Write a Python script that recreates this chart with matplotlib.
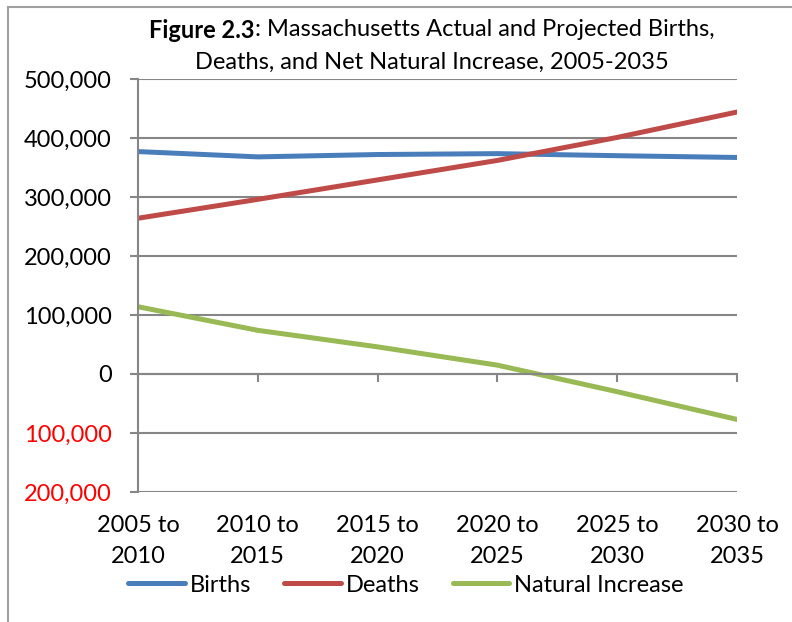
import matplotlib
matplotlib.use("Agg")
import matplotlib.pyplot as plt
from matplotlib.lines import Line2D
from matplotlib.ticker import FuncFormatter

plt.rcParams['font.family'] = ['Lato', 'DejaVu Sans']

# data
periods = ["2005 to\n2010", "2010 to\n2015", "2015 to\n2020",
           "2020 to\n2025", "2025 to\n2030", "2030 to\n2035"]
births = [377000, 368000, 372000, 373500, 370000, 367000]
deaths = [264000, 296000, 329000, 362000, 401000, 444000]
natural = [114000, 74000, 46000, 15000, -30000, -77000]
yticks = [-200000, -100000, 0, 100000, 200000, 300000, 400000, 500000]

grid_col = "#868686"
fs = 17

fig = plt.figure(figsize=(7.92, 6.22), dpi=100)
ax = fig.add_axes([138 / 792, 1 - 492 / 622, (737 - 138) / 792, (492 - 79) / 622])

x = list(range(len(periods)))
ax.plot(x, births, color="#4A7EBB", lw=3.6, label="Births", solid_capstyle="round")
ax.plot(x, deaths, color="#BE4B48", lw=3.6, label="Deaths", solid_capstyle="round")
ax.plot(x, natural, color="#98B954", lw=3.6, label="Natural Increase", solid_capstyle="round")

ax.set_xlim(0, len(periods) - 1)
ax.set_ylim(yticks[0], yticks[-1])
ax.set_yticks(yticks)
ax.yaxis.set_major_formatter(FuncFormatter(lambda v, p: f"{abs(int(v)):,}"))
ax.grid(axis="y", color=grid_col, lw=1.5)
ax.set_axisbelow(True)

for s in ["top", "right"]:
    ax.spines[s].set_visible(False)
ax.spines["left"].set_color(grid_col)
ax.spines["left"].set_linewidth(1.5)
ax.spines["bottom"].set_position(("data", 0))
ax.spines["bottom"].set_color(grid_col)
ax.spines["bottom"].set_linewidth(1.5)

ax.tick_params(axis="y", direction="out", length=6, width=1.5, color=grid_col,
               labelsize=fs, pad=13)
ax.set_xticks(x)
ax.tick_params(axis="x", direction="out", length=6, width=1.5, color=grid_col,
               labelbottom=False)
for lbl, v in zip(ax.get_yticklabels(), yticks):
    if v < 0:
        lbl.set_color("red")

# category labels sit below the plot area, not at the zero line
for xi, lab in zip(x, periods):
    ax.text(xi, -0.055, lab, transform=ax.get_xaxis_transform(), ha="center",
            va="top", fontsize=fs, linespacing=1.6)

# title: bold prefix + regular text, both lines centred on x=432px
cx = 432 / 792
t1 = fig.text(0, 1 - 30 / 622, "Figure 2.3", fontsize=fs, fontweight="bold",
              va="center", ha="left")
t1b = fig.text(0, 1 - 30 / 622, ": Massachusetts Actual and Projected Births,",
               fontsize=fs, va="center", ha="left")
fig.text(cx, 1 - 62 / 622, "Deaths, and Net Natural Increase, 2005-2035",
         fontsize=fs, ha="center", va="center")
r = fig.canvas.get_renderer()
w1 = t1.get_window_extent(r).width / 792
w2 = t1b.get_window_extent(r).width / 792
x0 = cx - (w1 + w2) / 2
t1.set_x(x0)
t1b.set_x(x0 + w1)

fig.legend(loc="center", bbox_to_anchor=(406 / 792, 1 - 585 / 622), ncol=3,
           frameon=False, fontsize=fs, handlelength=2.4, handletextpad=0.2,
           columnspacing=1.4, borderaxespad=0)

# chart frame edges visible in the reference
fig.add_artist(Line2D([8 / 792, 1], [1 - 7 / 622] * 2, color="#A0A0A0", lw=1.5))
fig.add_artist(Line2D([8 / 792] * 2, [0, 1 - 7 / 622], color="#A0A0A0", lw=1.5))

fig.savefig("out.png", dpi=100)
